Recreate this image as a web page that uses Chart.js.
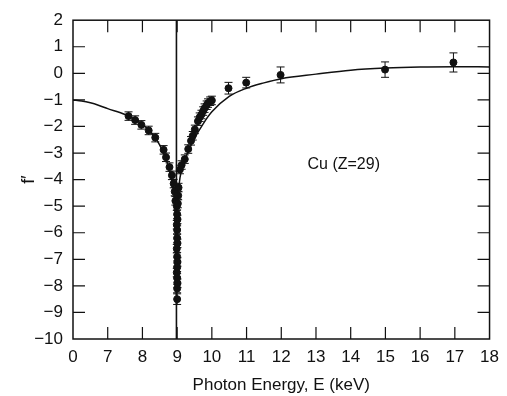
<!DOCTYPE html>
<html>
<head>
<meta charset="utf-8">
<script src="https://cdn.jsdelivr.net/npm/chart.js@4/dist/chart.umd.min.js"></script>
<style>
  body { margin: 0; background: #fff; }
</style>
</head>
<body>
<canvas id="chart" width="507" height="396"></canvas>
<script>
//  Theory curve for f' of copper (energy in keV)
const curve_E = [0, 1.75, 3.5, 5.25, 7.0, 7.5, 8.0, 8.3, 8.5, 8.7, 8.8, 8.9, 8.95, 8.97, 8.98,
                 8.99, 9.01, 9.05, 9.15, 9.3, 9.5, 9.75, 10.0, 10.5, 11.0, 11.5, 12.0, 13, 14, 15, 16, 17, 18];
const curve_f = [-1.0, -1.04, -1.11, -1.21, -1.33, -1.55, -1.92, -2.3, -2.7, -3.3, -3.8, -4.5, -5.5, -7.0, -8.7,
                 -7.0, -5.3, -4.3, -3.55, -3.0, -2.45, -1.9, -1.45, -0.87, -0.56, -0.36, -0.2, -0.03, 0.12, 0.2, 0.24, 0.25, 0.24];

//  Measured points with error bars
const meas_E = [7.6, 7.79, 7.97, 8.18, 8.37, 8.61, 8.68, 8.78, 8.85, 8.90, 8.93, 8.95,
                8.99, 9.0, 9.01, 8.99, 9.0, 9.0, 9.01, 8.99, 9.0, 9.01, 9.0, 8.99, 9.0, 9.01, 9.0, 9.0,
                9.04, 9.03, 9.02, 9.08, 9.13, 9.22, 9.32, 9.4, 9.45, 9.51, 9.6, 9.65, 9.7, 9.75, 9.79, 9.85, 9.89, 9.95, 10.0,
                10.48, 10.99, 11.98, 14.99, 16.96];
const meas_f = [-1.61, -1.76, -1.94, -2.15, -2.42, -2.88, -3.16, -3.53, -3.84, -4.15, -4.45, -4.8,
                -5.0, -5.3, -5.5, -5.7, -5.9, -6.2, -6.4, -6.6, -6.9, -7.1, -7.3, -7.5, -7.7, -7.9, -8.1, -8.5,
                -4.3, -4.6, -4.9, -3.62, -3.45, -3.23, -2.85, -2.54, -2.35, -2.11, -1.8, -1.65, -1.55, -1.42, -1.31, -1.2, -1.12, -1.05, -1.02,
                -0.56, -0.35, -0.06, 0.14, 0.41];
const meas_err = [0.16, 0.16, 0.16, 0.16, 0.16, 0.16, 0.16, 0.16, 0.16, 0.16, 0.16, 0.16,
                  0.16, 0.16, 0.16, 0.16, 0.16, 0.16, 0.16, 0.16, 0.16, 0.16, 0.16, 0.16, 0.16, 0.16, 0.16, 0.2,
                  0.16, 0.16, 0.16, 0.16, 0.16, 0.16, 0.16, 0.16, 0.16, 0.16, 0.16, 0.16, 0.16, 0.16, 0.16, 0.16, 0.16, 0.16, 0.16,
                  0.22, 0.2, 0.3, 0.29, 0.36];

const x_tick_labels = ['0', '7', '8', '9', '10', '11', '12', '13', '14', '15', '16', '17', '18'];
const edge_E = 8.98;
const note_text = 'Cu (Z=29)';
const note_at = [13.8, -3.45];

//  the axis is broken: 0..7 keV is squeezed into one unit
function axis_x(E) {
    return E >= 7 ? E : 6 + E / 7;
}

const FONT = '"Liberation Sans", Arial, Helvetica, sans-serif';
const INK = '#111';

const extras = {
    id: 'extras',
    beforeDatasetsDraw(chart) {
        const { ctx, chartArea: a, scales: { x, y } } = chart;
        ctx.save();
        ctx.strokeStyle = INK;
        //  edge line
        ctx.lineWidth = 1.6;
        const ex = x.getPixelForValue(axis_x(edge_E));
        ctx.beginPath();
        ctx.moveTo(ex, a.top);
        ctx.lineTo(ex, a.bottom);
        ctx.stroke();
        //  error bars
        ctx.lineWidth = 1;
        for (let i = 0; i < meas_E.length; i++) {
            const px = x.getPixelForValue(axis_x(meas_E[i]));
            const y1 = y.getPixelForValue(meas_f[i] + meas_err[i]);
            const y2 = y.getPixelForValue(meas_f[i] - meas_err[i]);
            ctx.beginPath();
            ctx.moveTo(px, y1); ctx.lineTo(px, y2);
            ctx.moveTo(px - 4, y1); ctx.lineTo(px + 4, y1);
            ctx.moveTo(px - 4, y2); ctx.lineTo(px + 4, y2);
            ctx.stroke();
        }
        ctx.restore();
    },
    afterDraw(chart) {
        const { ctx, chartArea: a, scales: { x, y } } = chart;
        ctx.save();
        ctx.strokeStyle = INK;
        ctx.lineWidth = 1.5;
        ctx.strokeRect(a.left, a.top, a.right - a.left, a.bottom - a.top);
        //  inward ticks on all four sides
        ctx.lineWidth = 1.2;
        ctx.beginPath();
        x.ticks.forEach(t => {
            if (t.value <= x.min || t.value >= x.max) return;
            const px = x.getPixelForValue(t.value);
            ctx.moveTo(px, a.bottom); ctx.lineTo(px, a.bottom - 12);
            ctx.moveTo(px, a.top); ctx.lineTo(px, a.top + 12);
        });
        y.ticks.forEach(t => {
            if (t.value <= y.min || t.value >= y.max) return;
            const py = y.getPixelForValue(t.value);
            ctx.moveTo(a.left, py); ctx.lineTo(a.left + 12, py);
            ctx.moveTo(a.right, py); ctx.lineTo(a.right - 12, py);
        });
        ctx.stroke();
        //  label
        ctx.fillStyle = INK;
        ctx.font = '16px ' + FONT;
        ctx.textAlign = 'center';
        ctx.textBaseline = 'middle';
        ctx.fillText(note_text, x.getPixelForValue(axis_x(note_at[0])), y.getPixelForValue(note_at[1]));
        ctx.restore();
    }
};

new Chart(document.getElementById('chart'), {
    type: 'scatter',
    data: {
        datasets: [{
            label: 'theory',
            type: 'line',
            data: curve_E.map((e, i) => ({ x: axis_x(e), y: curve_f[i] })),
            borderColor: INK,
            borderWidth: 1.5,
            pointRadius: 0,
            fill: false,
            cubicInterpolationMode: 'monotone'
        }, {
            label: 'measured',
            data: meas_E.map((e, i) => ({ x: axis_x(e), y: meas_f[i] })),
            backgroundColor: INK,
            borderColor: INK,
            pointRadius: 3.5,
            pointHoverRadius: 3.5
        }]
    },
    options: {
        responsive: false,
        animation: false,
        events: [],
        layout: { padding: { top: 16, right: 11, left: 0, bottom: 0 } },
        plugins: { legend: { display: false }, tooltip: { enabled: false } },
        scales: {
            x: {
                type: 'linear',
                min: 6, max: 18,
                grid: { display: false, drawTicks: false },
                border: { display: false },
                ticks: {
                    stepSize: 1,
                    padding: 8,
                    color: INK,
                    font: { family: FONT, size: 17 },
                    maxRotation: 0,
                    callback: v => x_tick_labels[v - 6]
                },
                title: {
                    display: true,
                    text: 'Photon Energy, E (keV)',
                    color: INK,
                    font: { family: FONT, size: 17 },
                    padding: { top: 4, bottom: 0 }
                },
                afterFit: s => { s.height = 57; }
            },
            y: {
                min: -10, max: 2,
                grid: { display: false, drawTicks: false },
                border: { display: false },
                ticks: {
                    stepSize: 1,
                    padding: 10,
                    color: INK,
                    font: { family: FONT, size: 17 },
                    callback: v => String(v).replace('-', '\u2212')
                },
                title: {
                    display: true,
                    text: 'f\u2032',
                    color: INK,
                    font: { family: FONT, size: 18 },
                    padding: { top: 18, bottom: 0 }
                },
                afterFit: s => { s.width = 73; }
            }
        }
    },
    plugins: [extras]
});
</script>
</body>
</html>
